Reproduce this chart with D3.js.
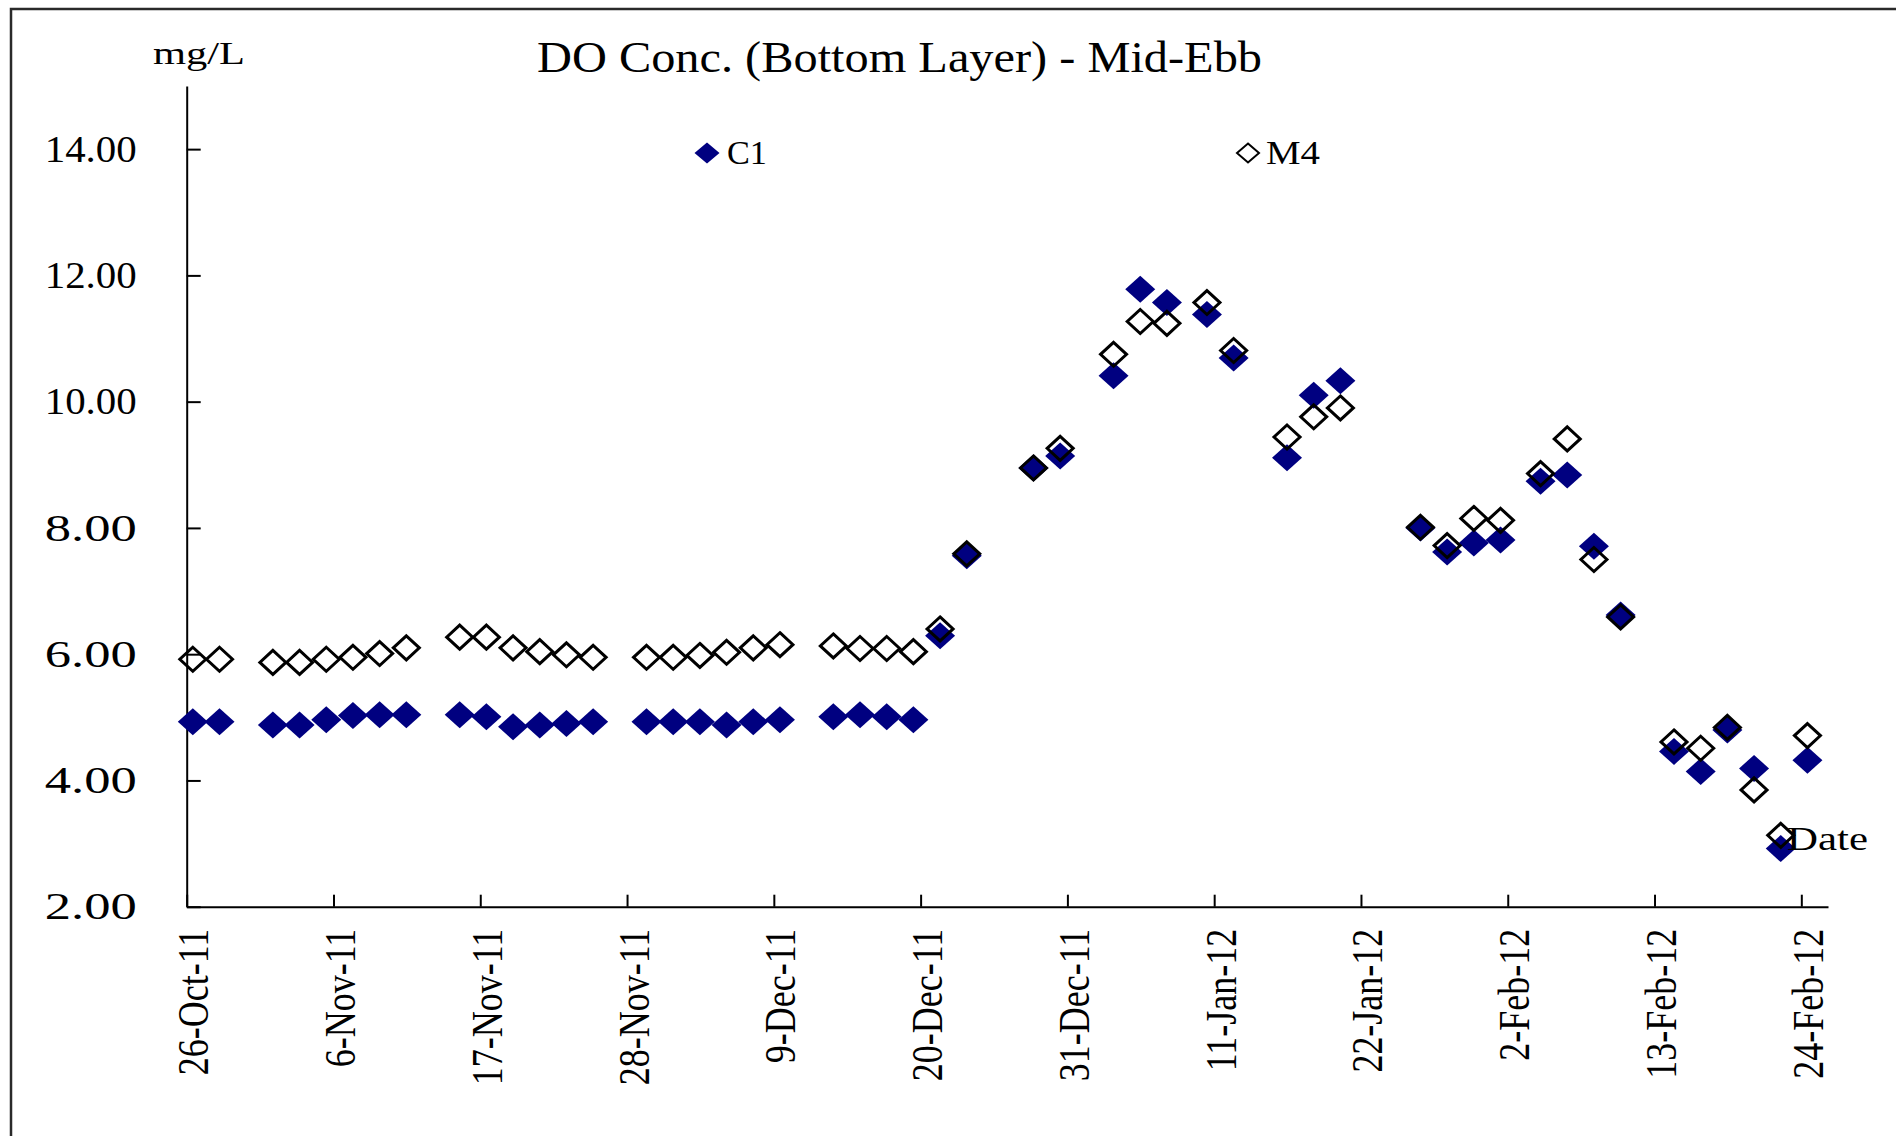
<!DOCTYPE html>
<html>
<head>
<meta charset="utf-8">
<script src="https://cdn.jsdelivr.net/npm/d3@7"></script>
<style>
  body { margin: 0; background: #fff; }
  text { font-family: "Liberation Serif", "Times New Roman", serif; fill: #000; }
</style>
</head>
<body>
<svg id="chart" width="1896" height="1136"></svg>
<script>
// sampling dates (sampled late morning, hence the hour offset)
var sampleDates = [
  "2011-10-26","2011-10-28",
  "2011-11-01","2011-11-03","2011-11-05","2011-11-07","2011-11-09","2011-11-11",
  "2011-11-15","2011-11-17","2011-11-19","2011-11-21","2011-11-23","2011-11-25",
  "2011-11-29","2011-12-01","2011-12-03","2011-12-05","2011-12-07","2011-12-09",
  "2011-12-13","2011-12-15","2011-12-17","2011-12-19",
  "2011-12-21","2011-12-23","2011-12-28","2011-12-30",
  "2012-01-03","2012-01-05","2012-01-07","2012-01-10","2012-01-12",
  "2012-01-16","2012-01-18","2012-01-20",
  "2012-01-26","2012-01-28","2012-01-30","2012-02-01",
  "2012-02-04","2012-02-06","2012-02-08","2012-02-10",
  "2012-02-14","2012-02-16","2012-02-18","2012-02-20","2012-02-22","2012-02-24"
]
var sampleHour = 11

// DO (mg/L), bottom layer, mid-ebb
var c1Values = [
  4.93, 4.93,
  4.88, 4.88, 4.96, 5.03, 5.04, 5.04,
  5.04, 5.01, 4.85, 4.88, 4.90, 4.93,
  4.93, 4.93, 4.93, 4.88, 4.93, 4.96,
  5.01, 5.04, 5.01, 4.96,
  6.29, 7.56, 8.95, 9.14,
  10.41, 11.78, 11.57, 11.38, 10.69,
  9.11, 10.10, 10.33,
  8.00, 7.62, 7.76, 7.81,
  8.74, 8.84, 7.71, 6.62,
  4.46, 4.14, 4.80, 4.19, 2.92, 4.32
]
var m4Values = [
  5.92, 5.92,
  5.87, 5.87, 5.92, 5.95, 6.01, 6.10,
  6.27, 6.27, 6.10, 6.04, 5.99, 5.95,
  5.95, 5.95, 5.98, 6.03, 6.10, 6.15,
  6.13, 6.09, 6.09, 6.04,
  6.40, 7.59, 8.95, 9.26,
  10.75, 11.27, 11.24, 11.57, 10.81,
  9.44, 9.76, 9.90,
  8.01, 7.72, 8.15, 8.12,
  8.86, 9.41, 7.50, 6.59,
  4.61, 4.51, 4.84, 3.85, 3.13, 4.71
]

var xTickLabels = ["26-Oct-11","6-Nov-11","17-Nov-11","28-Nov-11","9-Dec-11","20-Dec-11",
                   "31-Dec-11","11-Jan-12","22-Jan-12","2-Feb-12","13-Feb-12","24-Feb-12"]
var yTicks = [2, 4, 6, 8, 10, 12, 14]
var xDomain = ["26-Oct-11", "26-Feb-12"]
var yDomain = [2, 15]

var svg = d3.select("#chart")
var parseIso = d3.timeParse("%Y-%m-%d")
var parseLbl = d3.timeParse("%d-%b-%y")
var fmt = d3.timeFormat("%-d-%b-%y")

var points = sampleDates.map((d, i) => ({
  date: d3.timeHour.offset(parseIso(d), sampleHour),
  c1: c1Values[i],
  m4: m4Values[i]
}))

var x = d3.scaleTime()
  .domain(xDomain.map(parseLbl))
  .range([186.7, 1828])
var y = d3.scaleLinear()
  .domain(yDomain)
  .range([906.7, 86])

// outer frame (runs off the right/bottom edge like the source image)
svg.append("rect")
  .attr("x", 11).attr("y", 9)
  .attr("width", 1910).attr("height", 1150)
  .attr("fill", "none")
  .attr("stroke", "#2a2a2a")
  .attr("stroke-width", 2.5)

// title + unit
svg.append("text")
  .attr("x", 537).attr("y", 71.7)
  .attr("font-size", 45)
  .attr("textLength", 725).attr("lengthAdjust", "spacingAndGlyphs")
  .text("DO Conc. (Bottom Layer) - Mid-Ebb")

svg.append("text")
  .attr("x", 153).attr("y", 64)
  .attr("font-size", 32)
  .attr("textLength", 92).attr("lengthAdjust", "spacingAndGlyphs")
  .text("mg/L")

// y axis
var yAxis = svg.append("g")
  .attr("transform", "translate(" + x.range()[0] + ",0)")
  .call(d3.axisLeft(y).tickValues(yTicks).tickSizeInner(-14).tickSizeOuter(0).tickPadding(50)
    .tickFormat(d3.format(".2f")))
yAxis.selectAll("path, line").attr("stroke", "#000").attr("stroke-width", 2)
yAxis.selectAll("text")
  .attr("font-size", 37)
  .attr("dy", "0.33em")
  .attr("textLength", 92).attr("lengthAdjust", "spacingAndGlyphs")
  .style("font-family", "'Liberation Serif', serif")

// x axis
var xAxis = svg.append("g")
  .attr("transform", "translate(0," + y.range()[0] + ")")
  .call(d3.axisBottom(x).tickValues(xTickLabels.map(parseLbl)).tickSizeInner(-12).tickSizeOuter(0)
    .tickFormat(fmt))
xAxis.selectAll("path, line").attr("stroke", "#000").attr("stroke-width", 2)
xAxis.selectAll("text")
  .attr("x", 0).attr("y", 0).attr("dy", null)
  .attr("font-size", 36)
  .style("font-family", "'Liberation Serif', serif")
  .style("text-anchor", "end")
  .attr("transform", "translate(21,22) scale(1.22,1) rotate(-90)")

// diamond marker
function diamond(w, h) {
  return "M0," + (-h / 2) + "L" + (w / 2) + ",0L0," + (h / 2) + "L" + (-w / 2) + ",0Z"
}

// C1 (filled navy)
svg.append("g").selectAll("path")
  .data(points)
  .enter()
  .append("path")
    .attr("d", diamond(30, 27))
    .attr("transform", d => "translate(" + x(d.date) + "," + y(d.c1) + ")")
    .attr("fill", "#000080")

// M4 (open black)
svg.append("g").selectAll("path")
  .data(points)
  .enter()
  .append("path")
    .attr("d", diamond(26, 24))
    .attr("transform", d => "translate(" + x(d.date) + "," + y(d.m4) + ")")
    .attr("fill", "none")
    .attr("stroke", "#000")
    .attr("stroke-width", 3)

// legend
var legend = [
  {name: "C1", cx: 707, fill: "#000080", stroke: "none", tl: 40},
  {name: "M4", cx: 1248, fill: "none", stroke: "#000", tl: 54}
]
var lg = svg.append("g").selectAll("g")
  .data(legend)
  .enter()
  .append("g")
    .attr("transform", d => "translate(" + d.cx + ",153)")
lg.append("path")
  .attr("d", (d, i) => i == 0 ? diamond(25, 21) : diamond(22, 19))
  .attr("fill", d => d.fill)
  .attr("stroke", d => d.stroke)
  .attr("stroke-width", 2)
lg.append("text")
  .attr("x", (d, i) => i == 0 ? 20 : 18)
  .attr("y", 10.5)
  .attr("font-size", 33)
  .attr("textLength", d => d.tl).attr("lengthAdjust", "spacingAndGlyphs")
  .text(d => d.name)

// x axis title sits inside the plot near the end
svg.append("text")
  .attr("x", 1787).attr("y", 850)
  .attr("font-size", 34)
  .attr("textLength", 81).attr("lengthAdjust", "spacingAndGlyphs")
  .text("Date")
</script>
</body>
</html>
